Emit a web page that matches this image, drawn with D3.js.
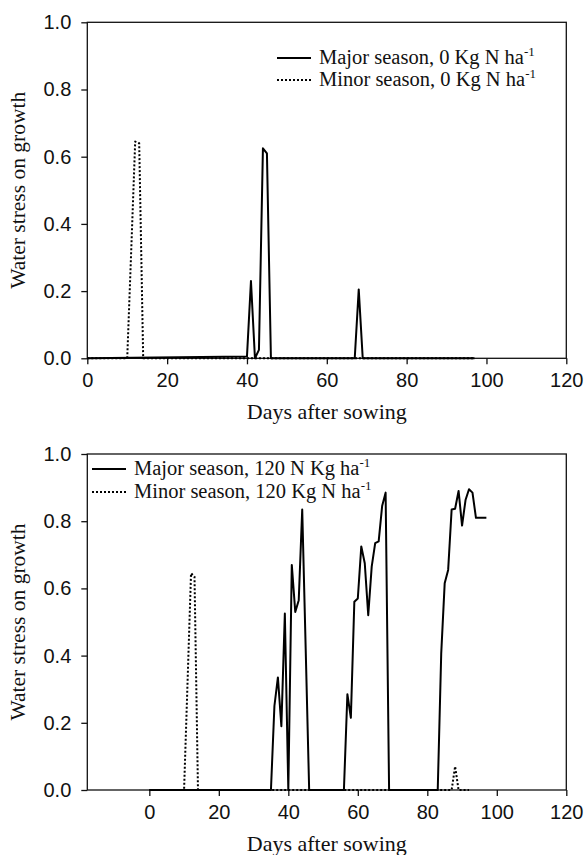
<!DOCTYPE html>
<html>
<head>
<meta charset="utf-8">
<script src="https://cdn.jsdelivr.net/npm/d3@7/dist/d3.min.js"></script>
<style>
  html, body { margin: 0; padding: 0; background: #fff; }
  svg { display: block; }
</style>
</head>
<body>
<svg id="chart" width="586" height="855"></svg>
<script>
// ---- Data (breakpoints of each polyline) ----
const xTicks = [0, 20, 40, 60, 80, 100, 120];
const yTicks = [0.0, 0.2, 0.4, 0.6, 0.8, 1.0];

// Panel A: 0 Kg N ha-1
const topMajorDays = [0, 40, 41, 42, 43, 44, 45, 46, 67, 68, 69, 97];
const topMajorVals = [0, 0.005, 0.23, 0, 0.025, 0.625, 0.61, 0, 0, 0.205, 0, 0];
const topMinorDays = [0, 10, 11, 12, 13, 14, 97];
const topMinorVals = [0, 0, 0.32, 0.645, 0.64, 0, 0];

// Panel B: 120 Kg N ha-1
const botMajorDays = [0, 35, 36, 37, 38, 39, 40, 41, 42, 43, 44, 45, 46,
  56, 57, 58, 59, 60, 61, 62, 63, 64, 65, 66, 67, 68, 69,
  83, 84, 85, 86, 87, 88, 89, 90, 91, 92, 93, 94, 95, 96, 97];
const botMajorVals = [0, 0, 0.25, 0.335, 0.19, 0.525, 0, 0.67, 0.53, 0.565, 0.835, 0.42, 0,
  0, 0.285, 0.215, 0.56, 0.57, 0.725, 0.675, 0.52, 0.665, 0.735, 0.74, 0.845, 0.885, 0,
  0, 0.405, 0.615, 0.655, 0.835, 0.837, 0.89, 0.787, 0.863, 0.895, 0.885, 0.81, 0.81, 0.81, 0.81];
const botMinorDays = [0, 10, 11, 12, 13, 14, 87, 88, 89, 92];
const botMinorVals = [0, 0, 0.32, 0.645, 0.635, 0, 0, 0.07, 0, 0];

const topLegend = ["Major season, 0 Kg N ha", "Minor season, 0 Kg N ha"];
const botLegend = ["Major season, 120 N Kg ha", "Minor season, 120 Kg N ha"];
const legendSup = "-1";
const xTitle = "Days after sowing";
const yTitle = "Water stress on growth";

// ---- Drawing ----
const svg = d3.select("#chart");
const SANS = "'Liberation Sans', Arial, sans-serif";
const SERIF = "'Liberation Serif', 'Times New Roman', serif";
const DOTS = "2,2";

function panel(opts) {
  const { x0, x1, yTop, yBot, xDomain, series, legend, legendPos } = opts;
  const x = d3.scaleLinear().domain(xDomain).range([x0, x1]);
  const y = d3.scaleLinear().domain([0, 1]).range([yBot, yTop]);
  const g = svg.append("g");

  const ya = g.append("g").attr("transform", `translate(${x0},0)`)
    .call(d3.axisLeft(y).tickValues(yTicks).tickFormat(d3.format(".1f")).tickSize(6).tickSizeOuter(0).tickPadding(10));
  const xa = g.append("g").attr("transform", `translate(0,${yBot})`)
    .call(d3.axisBottom(x).tickValues(xTicks).tickFormat(d3.format("d")).tickSize(6).tickSizeOuter(0).tickPadding(9));
  [ya, xa].forEach(a => {
    a.select(".domain").remove();
    a.selectAll(".tick line").attr("stroke", "#111").attr("stroke-width", 1.3);
    a.selectAll(".tick text").attr("font-family", SANS).attr("font-size", 20).attr("fill", "#111");
  });

  g.append("rect").attr("x", x0).attr("y", yTop).attr("width", x1 - x0).attr("height", yBot - yTop)
    .attr("fill", "none").attr("stroke", "#111").attr("stroke-width", 1.3);

  const line = d3.line().x(d => x(d[0])).y(d => y(d[1]));
  series.forEach(s => {
    const pts = s.days.map((d, i) => [d, s.vals[i]]);
    const p = g.append("path").datum(pts).attr("d", line)
      .attr("fill", "none").attr("stroke", "#000")
      .attr("stroke-linejoin", "round");
    if (s.dotted) p.attr("stroke-width", 2).attr("stroke-dasharray", DOTS);
    else p.attr("stroke-width", 2);
  });

  legend.forEach((lab, i) => {
    const ly = legendPos.rows[i];
    const ln = g.append("line").attr("x1", legendPos.lx0).attr("x2", legendPos.lx1)
      .attr("y1", ly).attr("y2", ly).attr("stroke", "#000");
    if (i === 1) ln.attr("stroke-width", 2).attr("stroke-dasharray", DOTS);
    else ln.attr("stroke-width", 2);
    const t = g.append("text").attr("x", legendPos.tx).attr("y", ly + 6)
      .attr("font-family", SERIF).attr("font-size", 20.5).attr("fill", "#111");
    t.append("tspan").text(lab);
    t.append("tspan").attr("font-size", 13).attr("dy", -8).text(legendSup);
  });

  g.append("text").attr("x", (x0 + x1) / 2).attr("y", opts.xTitleY)
    .attr("text-anchor", "middle").attr("font-family", SERIF).attr("font-size", 22).attr("fill", "#111")
    .text(xTitle);
  g.append("text").attr("transform", `translate(25,${(yTop + yBot) / 2}) rotate(-90)`)
    .attr("text-anchor", "middle").attr("font-family", SERIF).attr("font-size", 21.5).attr("fill", "#111")
    .text(yTitle);
}

panel({
  x0: 87.3, x1: 566.3, yTop: 22.3, yBot: 358.3, xDomain: [0, 120],
  series: [
    { days: topMinorDays, vals: topMinorVals, dotted: true },
    { days: topMajorDays, vals: topMajorVals, dotted: false }
  ],
  legend: topLegend,
  legendPos: { lx0: 277, lx1: 311, tx: 319, rows: [58, 80] },
  xTitleY: 419
});

panel({
  x0: 87.3, x1: 566.3, yTop: 454, yBot: 790, xDomain: [-17.85, 120],
  series: [
    { days: botMinorDays, vals: botMinorVals, dotted: true },
    { days: botMajorDays, vals: botMajorVals, dotted: false }
  ],
  legend: botLegend,
  legendPos: { lx0: 92, lx1: 126, tx: 134, rows: [469, 492] },
  xTitleY: 851
});
</script>
</body>
</html>
